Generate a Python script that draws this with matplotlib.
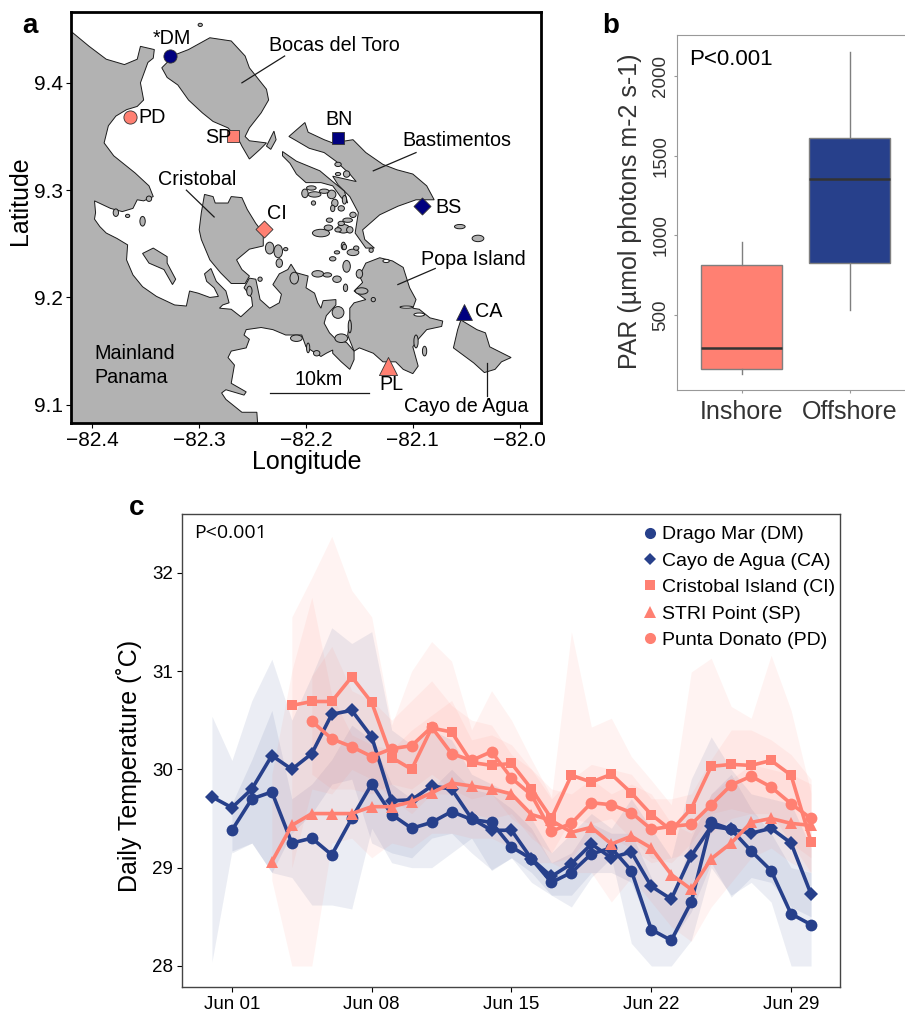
import numpy as np
import matplotlib
matplotlib.use("Agg")
import matplotlib.pyplot as plt
from matplotlib.patches import Polygon, Ellipse

plt.rcParams['font.family'] = ['Liberation Sans', 'DejaVu Sans']

navy = "#27408B"
salmon = "#FF8072"
dark_navy = "#00007F"
land = "#B2B2B2"

# ---------- panel a: coastline outlines (lon, lat)
mainland = [(-82.44,9.462),(-82.42,9.448),(-82.403,9.434),(-82.387,9.422),(-82.370,9.417),(-82.358,9.422),(-82.355,9.434),
    (-82.342,9.431),(-82.343,9.423),(-82.348,9.419),(-82.355,9.400),(-82.352,9.384),(-82.358,9.378),(-82.368,9.375),
    (-82.378,9.369),(-82.385,9.360),(-82.389,9.344),(-82.380,9.332),(-82.360,9.316),(-82.347,9.304),(-82.343,9.294),
    (-82.352,9.290),(-82.358,9.291),(-82.362,9.283),(-82.372,9.280),(-82.383,9.283),(-82.398,9.290),(-82.397,9.279),
    (-82.398,9.273),(-82.393,9.266),(-82.387,9.260),(-82.377,9.255),(-82.367,9.249),(-82.368,9.235),(-82.362,9.221),
    (-82.353,9.210),(-82.340,9.201),(-82.323,9.193),(-82.312,9.192),(-82.309,9.206),(-82.301,9.204),(-82.290,9.200),
    (-82.282,9.201),(-82.286,9.209),(-82.293,9.215),(-82.295,9.222),(-82.289,9.227),(-82.284,9.215),(-82.275,9.206),
    (-82.272,9.195),(-82.278,9.193),(-82.281,9.190),(-82.270,9.189),(-82.261,9.182),(-82.250,9.192),(-82.251,9.200),
    (-82.258,9.209),(-82.253,9.218),(-82.247,9.217),(-82.243,9.198),(-82.234,9.190),(-82.225,9.195),(-82.223,9.203),
    (-82.231,9.212),(-82.225,9.222),(-82.217,9.226),(-82.214,9.231),(-82.209,9.223),(-82.198,9.220),(-82.200,9.209),
    (-82.192,9.204),(-82.189,9.195),(-82.186,9.190),(-82.184,9.197),(-82.172,9.198),(-82.172,9.193),(-82.181,9.183),
    (-82.183,9.176),(-82.178,9.167),(-82.172,9.161),(-82.162,9.158),(-82.155,9.150),(-82.155,9.142),(-82.159,9.133),
    (-82.167,9.140),(-82.175,9.148),(-82.175,9.151),(-82.181,9.148),(-82.186,9.145),(-82.194,9.150),(-82.200,9.154),
    (-82.204,9.165),(-82.212,9.165),(-82.219,9.165),(-82.231,9.170),(-82.242,9.172),(-82.256,9.170),(-82.258,9.165),
    (-82.253,9.161),(-82.256,9.153),(-82.270,9.150),(-82.273,9.144),(-82.267,9.137),(-82.270,9.120),(-82.256,9.112),
    (-82.258,9.109),(-82.275,9.114),(-82.279,9.111),(-82.275,9.105),(-82.260,9.093),(-82.246,9.093),(-82.245,9.078),(-82.44,9.078)]
popa = [(-82.144,9.232),(-82.131,9.237),(-82.119,9.234),(-82.109,9.228),(-82.103,9.209),(-82.097,9.198),(-82.100,9.190),
    (-82.094,9.189),(-82.084,9.181),(-82.072,9.178),(-82.073,9.173),(-82.087,9.170),(-82.095,9.161),(-82.100,9.154),
    (-82.095,9.136),(-82.100,9.129),(-82.109,9.133),(-82.116,9.140),(-82.128,9.140),(-82.137,9.148),(-82.150,9.153),
    (-82.155,9.150),(-82.161,9.165),(-82.159,9.179),(-82.159,9.190),(-82.155,9.195),(-82.144,9.198),(-82.155,9.206),
    (-82.147,9.214),(-82.150,9.220)]
bocas = [(-82.335,9.414),(-82.323,9.426),(-82.310,9.431),(-82.290,9.442),(-82.270,9.439),(-82.257,9.425),(-82.253,9.414),
    (-82.237,9.394),(-82.235,9.384),(-82.242,9.372),(-82.253,9.358),(-82.257,9.350),(-82.253,9.346),(-82.237,9.344),
    (-82.243,9.338),(-82.253,9.329),(-82.260,9.341),(-82.263,9.347),(-82.273,9.358),(-82.280,9.361),(-82.287,9.364),
    (-82.297,9.372),(-82.310,9.384),(-82.320,9.398),(-82.330,9.405)]
bocas_small = [(-82.237,9.341),(-82.230,9.355),(-82.228,9.347),(-82.233,9.338)]
bastimentos = [(-82.216,9.350),(-82.201,9.363),(-82.198,9.354),(-82.183,9.347),(-82.175,9.344),(-82.156,9.347),(-82.144,9.335),
    (-82.128,9.324),(-82.115,9.319),(-82.100,9.315),(-82.087,9.304),(-82.080,9.291),(-82.097,9.291),(-82.114,9.285),
    (-82.131,9.277),(-82.147,9.263),(-82.145,9.254),(-82.136,9.246),(-82.144,9.246),(-82.154,9.260),(-82.151,9.279),
    (-82.159,9.294),(-82.170,9.305),(-82.175,9.313),(-82.153,9.308),(-82.159,9.315),(-82.172,9.327),(-82.183,9.335),
    (-82.197,9.339),(-82.209,9.346)]
bast_arm = [(-82.222,9.336),(-82.209,9.327),(-82.187,9.318),(-82.175,9.308),(-82.164,9.299),(-82.161,9.288),(-82.167,9.293),
    (-82.175,9.304),(-82.186,9.307),(-82.200,9.307),(-82.209,9.315),(-82.215,9.325),(-82.222,9.332)]
cristobal = [(-82.298,9.279),(-82.295,9.296),(-82.287,9.294),(-82.285,9.288),(-82.273,9.288),(-82.270,9.294),(-82.260,9.293),
    (-82.255,9.282),(-82.247,9.269),(-82.240,9.260),(-82.240,9.248),(-82.253,9.245),(-82.265,9.235),(-82.260,9.226),
    (-82.253,9.220),(-82.257,9.213),(-82.270,9.213),(-82.280,9.223),(-82.290,9.235),(-82.298,9.254),(-82.300,9.263)]
cayo = [(-82.055,9.179),(-82.040,9.170),(-82.032,9.167),(-82.028,9.154),(-82.008,9.144),(-82.017,9.140),(-82.023,9.133),
    (-82.033,9.130),(-82.043,9.139),(-82.062,9.153),(-82.058,9.170)]
inner = [(-82.353,9.241),(-82.343,9.246),(-82.330,9.238),(-82.330,9.232),(-82.322,9.217),(-82.325,9.212),(-82.333,9.226),(-82.347,9.232)]
outlines = [mainland, popa, bocas, bocas_small, bastimentos, bast_arm, cristobal, cayo, inner]

# small islands: lon, lat, width, height
islets = [(-82.299,9.454,.004,.003),(-82.056,9.266,.010,.004),(-82.039,9.255,.011,.006),(-82.353,9.271,.005,.009),
    (-82.378,9.279,.005,.007),(-82.367,9.276,.004,.003),(-82.347,9.292,.005,.005),
    (-82.186,9.260,.016,.007),(-82.165,9.264,.012,.008),(-82.165,9.248,.004,.007),(-82.171,9.242,.005,.003),
    (-82.175,9.236,.006,.004),(-82.156,9.242,.011,.006),(-82.162,9.229,.007,.011),(-82.139,9.244,.004,.004),
    (-82.189,9.222,.011,.006),(-82.180,9.221,.008,.004),(-82.171,9.217,.008,.006),(-82.163,9.209,.004,.007),
    (-82.150,9.222,.006,.008),(-82.148,9.206,.012,.006),(-82.137,9.198,.004,.004),(-82.170,9.186,.011,.011),
    (-82.159,9.173,.003,.012),(-82.167,9.162,.012,.008),(-82.209,9.162,.011,.006),(-82.198,9.153,.003,.009),
    (-82.190,9.148,.006,.005),(-82.211,9.218,.008,.011),(-82.243,9.217,.004,.004),(-82.253,9.206,.005,.009),
    (-82.097,9.159,.004,.012),(-82.089,9.150,.004,.009),(-82.234,9.246,.008,.011),(-82.226,9.243,.008,.012),
    (-82.225,9.232,.006,.008),(-82.219,9.245,.004,.003),
    (-82.170,9.324,.006,.004),(-82.162,9.315,.006,.006),(-82.170,9.315,.005,.003),(-82.176,9.296,.008,.008),
    (-82.195,9.302,.009,.004),(-82.192,9.296,.012,.005),(-82.201,9.297,.006,.008),(-82.193,9.288,.004,.004),
    (-82.183,9.299,.009,.004),(-82.173,9.288,.006,.007),(-82.167,9.283,.006,.005),(-82.175,9.283,.004,.006),
    (-82.164,9.291,.004,.008),(-82.156,9.277,.006,.005),(-82.161,9.272,.009,.004),(-82.167,9.269,.006,.004),
    (-82.178,9.272,.006,.004),(-82.179,9.265,.008,.005),(-82.170,9.263,.006,.004),(-82.159,9.263,.006,.006),
    (-82.164,9.247,.004,.005),(-82.153,9.246,.005,.004)]
lagoons = [(-82.125,9.234,.006,.003),(-82.106,9.191,.012,.002),(-82.094,9.184,.010,.003)]

site_lon = [-82.327,-82.365,-82.268,-82.170,-82.091,-82.239,-82.052,-82.123]
site_lat = [9.425,9.368,9.350,9.349,9.285,9.264,9.186,9.136]
site_marker = ["o","o","s","s","D","D","^","^"]
site_color = [dark_navy,salmon,salmon,dark_navy,dark_navy,salmon,dark_navy,salmon]
site_size = [90,90,80,80,75,75,130,170]

# ---------- panel b
par_groups = ["Inshore","Offshore"]
par_low = [128,531]
par_q1 = [163,828]
par_med = [295,1353]
par_q3 = [814,1613]
par_high = [960,2152]

# ---------- panel c (index 0 = May 31)
dm = [29.38,29.70,29.77,29.25,29.30,29.13,29.50,29.85,29.54,29.40,29.46,29.57,29.49,29.46,29.21,29.09,28.85,28.95,29.14,29.20,28.97,28.37,28.26,28.65,29.46,29.39,29.17,28.97,28.53,28.42]
dm_hi = [29.65,30.10,30.60,29.70,29.85,30.10,30.45,30.30,29.85,29.70,29.80,30.00,29.80,29.75,29.60,29.40,29.05,29.15,29.45,29.35,29.35,28.90,28.60,29.30,29.75,29.95,29.60,29.35,29.00,28.95]
dm_lo = [29.15,29.25,28.95,28.90,28.62,28.62,28.58,29.40,29.05,29.00,29.00,29.15,29.30,28.97,29.10,28.95,28.72,28.60,28.90,29.10,28.23,28.00,28.00,28.26,29.00,28.72,28.85,28.65,28.00,28.00]
ca = [29.72,29.61,29.80,30.14,30.00,30.16,30.56,30.60,30.33,29.68,29.69,29.83,29.80,29.50,29.38,29.38,29.09,28.91,29.04,29.24,29.10,29.16,28.81,28.68,29.12,29.42,29.39,29.35,29.40,29.25,28.73]
ca_hi = [30.54,30.09,30.70,31.12,30.50,30.95,31.44,31.28,31.40,30.40,30.25,30.40,30.30,29.95,29.85,29.75,29.50,29.15,29.35,29.55,29.40,29.70,29.40,29.10,29.90,30.33,30.00,29.75,29.70,29.65,29.20]
ca_lo = [28.04,29.17,29.25,28.95,29.35,29.55,29.85,29.90,29.25,29.15,29.10,29.30,29.35,29.15,28.98,29.10,28.85,28.72,28.72,28.95,28.95,28.85,28.35,28.25,28.55,29.05,28.70,28.90,28.85,28.60,28.50]
ci = [30.65,30.69,30.69,30.94,30.68,30.12,30.00,30.42,30.38,30.07,30.04,30.06,29.80,29.50,29.94,29.87,29.95,29.76,29.54,29.38,29.60,30.03,30.05,30.04,30.09,29.94,29.26]
ci_hi = [31.55,31.95,32.37,31.82,31.55,30.45,31.00,31.30,31.10,30.40,30.80,30.50,30.10,29.72,31.40,30.43,30.52,30.13,29.89,29.64,30.99,31.13,30.64,30.52,31.16,30.60,29.76]
ci_lo = [29.00,29.80,29.75,30.00,29.90,29.70,29.55,29.75,29.75,29.55,29.50,29.55,29.30,29.15,29.50,29.45,29.50,29.30,29.10,29.05,29.25,29.55,29.60,29.55,29.55,29.25,28.95]
sp = [29.06,29.43,29.55,29.55,29.55,29.62,29.62,29.67,29.76,29.86,29.83,29.80,29.75,29.54,29.48,29.36,29.41,29.24,29.32,29.20,28.93,28.78,29.09,29.25,29.46,29.50,29.45,29.43]
sp_hi = [29.95,31.00,31.75,30.75,30.35,30.25,30.20,30.40,30.55,30.70,30.30,30.35,30.25,30.00,29.80,29.75,29.90,29.75,29.85,29.75,29.45,29.35,29.75,29.90,30.05,30.00,29.95,29.85]
sp_lo = [28.87,28.00,28.00,29.25,29.30,29.10,29.25,29.20,29.35,29.35,29.30,29.30,29.20,29.05,29.05,28.95,28.95,28.65,28.90,28.65,28.40,28.25,28.60,28.85,29.10,29.20,29.05,28.95]
pd_site = [30.49,30.31,30.23,30.13,30.21,30.24,30.43,30.16,30.09,30.18,29.91,29.74,29.37,29.45,29.66,29.64,29.56,29.39,29.42,29.44,29.64,29.84,29.93,29.82,29.65,29.50]
pd_hi = [30.95,31.25,30.80,30.70,30.50,30.70,30.90,30.65,30.50,30.45,30.15,30.00,29.70,29.90,30.05,30.00,29.95,29.70,29.70,29.75,30.10,30.40,30.40,30.30,30.15,29.90]
pd_lo = [29.95,29.80,29.80,29.75,29.85,29.80,29.95,29.80,29.70,29.75,29.50,29.35,29.05,29.10,29.35,29.30,29.20,29.05,29.10,29.15,29.35,29.50,29.55,29.45,29.25,29.10]

temp_series = [
    ("Drago Mar (DM)", 1, dm, dm_hi, dm_lo, navy, "o", 8.5),
    ("Cayo de Agua (CA)", 0, ca, ca_hi, ca_lo, navy, "D", 7),
    ("Cristobal Island (CI)", 4, ci, ci_hi, ci_lo, salmon, "s", 7.5),
    ("STRI Point (SP)", 3, sp, sp_hi, sp_lo, salmon, "^", 9),
    ("Punta Donato (PD)", 5, pd_site, pd_hi, pd_lo, salmon, "o", 8.5),
]
date_ticks = [1,8,15,22,29]
date_labels = ["Jun 01","Jun 08","Jun 15","Jun 22","Jun 29"]
temp_ticks = [28,29,30,31,32]

W, H = 905, 1015
fig = plt.figure(figsize=(W/100, H/100), dpi=100)

def add_axes_px(left, top, right, bottom):
    return fig.add_axes([left/W, 1-bottom/H, (right-left)/W, (bottom-top)/H])

# panel a
ax = add_axes_px(71, 12, 541, 423)
for o in outlines:
    ax.add_patch(Polygon(o, closed=True, fc=land, ec="#1a1a1a", lw=0.7))
for lon, lat, w, h in islets:
    ax.add_patch(Ellipse((lon, lat), w, h, fc=land, ec="#1a1a1a", lw=0.7))
for lon, lat, w, h in lagoons:
    ax.add_patch(Ellipse((lon, lat), w, h, fc="white", ec="#1a1a1a", lw=0.7))
for i in range(len(site_lon)):
    ax.scatter(site_lon[i], site_lat[i], s=site_size[i], marker=site_marker[i], c=site_color[i],
               edgecolors="#333333", linewidths=0.6, zorder=5)
ax.set_xlim(-82.42, -81.98)
ax.set_ylim(9.083, 9.466)
ax.set_xticks([-82.4,-82.3,-82.2,-82.1,-82.0])
ax.set_yticks([9.1,9.2,9.3,9.4])
ax.tick_params(labelsize=15, length=3.5, width=0.8, pad=2.5)
for s in ax.spines.values():
    s.set_linewidth(2)
ax.set_xlabel("Longitude", fontsize=18)
ax.xaxis.set_label_coords(0.502, -0.066)
ax.set_ylabel("Latitude", fontsize=18)
ax.yaxis.set_label_coords(-0.083, 0.54)

labels_a = [("Bocas del Toro",-82.173,9.435,"center"),("Bastimentos",-82.059,9.346,"center"),("Cristobal",-82.302,9.310,"center"),
    ("Popa Island",-82.043,9.235,"center"),("Cayo de Agua",-82.050,9.098,"center"),("10km",-82.188,9.124,"center"),
    ("*DM",-82.326,9.441,"center"),("PD",-82.357,9.368,"left"),("SP",-82.282,9.349,"center"),("BN",-82.169,9.366,"center"),
    ("BS",-82.067,9.284,"center"),("CI",-82.227,9.278,"center"),("CA",-82.029,9.187,"center"),("PL",-82.120,9.119,"center"),
    ("Mainland",-82.398,9.148,"left"),("Panama",-82.398,9.125,"left")]
for txt, x, y, ha in labels_a:
    ax.text(x, y, txt, fontsize=14.2, ha=ha, va="center", zorder=6)
lead_lines = [((-82.220,-82.260),(9.425,9.400)),((-82.097,-82.137),(9.335,9.318)),((-82.312,-82.286),(9.300,9.275)),
    ((-82.079,-82.114),(9.227,9.212)),((-82.031,-82.031),(9.139,9.108)),((-82.234,-82.141),(9.111,9.111))]
for xs, ys in lead_lines:
    ax.plot(xs, ys, color="#1a1a1a", lw=0.9, zorder=4)

# panel b
bx = add_axes_px(677, 35, 905, 390)
stats = [dict(med=par_med[i], q1=par_q1[i], q3=par_q3[i], whislo=par_low[i], whishi=par_high[i], fliers=[]) for i in range(2)]
bp = bx.bxp(stats, positions=[1,2], widths=0.75, patch_artist=True, showcaps=False, showfliers=False,
            medianprops=dict(color="#333333", lw=1.8), whiskerprops=dict(color="#7f7f7f", lw=1),
            boxprops=dict(edgecolor="#7f7f7f", lw=1))
bp['boxes'][0].set_facecolor(salmon)
bp['boxes'][1].set_facecolor(navy)
bx.set_xlim(0.4, 2.51)
bx.set_ylim(29, 2257)
bx.set_yticks([500,1000,1500,2000])
bx.set_xticks([1,2])
bx.set_xticklabels(par_groups, fontsize=18, color="#333333")
bx.tick_params(axis="y", labelsize=13.5, labelrotation=90, length=2.5, color="#999999", labelcolor="#333333", pad=3)
bx.tick_params(axis="x", length=2.5, color="#999999", pad=5)
for t in bx.get_yticklabels():
    t.set_va("center")
bx.spines["right"].set_visible(False)
for s in ["left","top","bottom"]:
    bx.spines[s].set_color("#999999")
bx.set_ylabel("PAR (µmol photons m-2 s-1)", fontsize=18, color="#333333")
bx.yaxis.set_label_coords(-0.155, 0.503)
bx.text(0.055, 0.93, "P<0.001", transform=bx.transAxes, fontsize=16, va="center")

# panel c
cx = add_axes_px(182, 514, 840, 987)
for name, start, vals, hi, lo, col, mk, ms in temp_series:
    days = np.arange(start, start+len(vals))
    cx.fill_between(days, lo, hi, color=col, alpha=0.09, lw=0)
for name, start, vals, hi, lo, col, mk, ms in temp_series:
    days = np.arange(start, start+len(vals))
    cx.plot(days, vals, color=col, lw=2.6, marker=mk, ms=ms, mew=0)
    cx.plot([], [], color=col, ls="", marker=mk, ms=ms-0.5, mew=0, label=name)
cx.set_xlim(-1.5, 31.45)
cx.set_ylim(27.786, 32.597)
cx.set_xticks(date_ticks)
cx.set_xticklabels(date_labels)
cx.set_yticks(temp_ticks)
cx.tick_params(labelsize=13.5, length=3.5, width=0.8, pad=3)
for s in cx.spines.values():
    s.set_color("#444444")
    s.set_linewidth(1)
cx.set_ylabel("Daily Temperature (˚C)", fontsize=18)
cx.yaxis.set_label_coords(-0.061, 0.467)
cx.text(0.019, 0.96, "P<0.001", transform=cx.transAxes, fontsize=14, va="center", family="Open Sans")
handles, names = cx.get_legend_handles_labels()
cx.legend(handles[:5], names[:5], loc="upper right", bbox_to_anchor=(0.992, 0.975), frameon=False, fontsize=14,
          handletextpad=0.1, labelspacing=0.45, borderaxespad=0, borderpad=0, handlelength=1.0)

# panel letters
for txt, x, y in [("a",22,26),("b",602,26),("c",129,508)]:
    fig.text(x/W, 1-y/H, txt, fontsize=20, fontweight="bold", va="center")

fig.savefig("out.png", dpi=100)
